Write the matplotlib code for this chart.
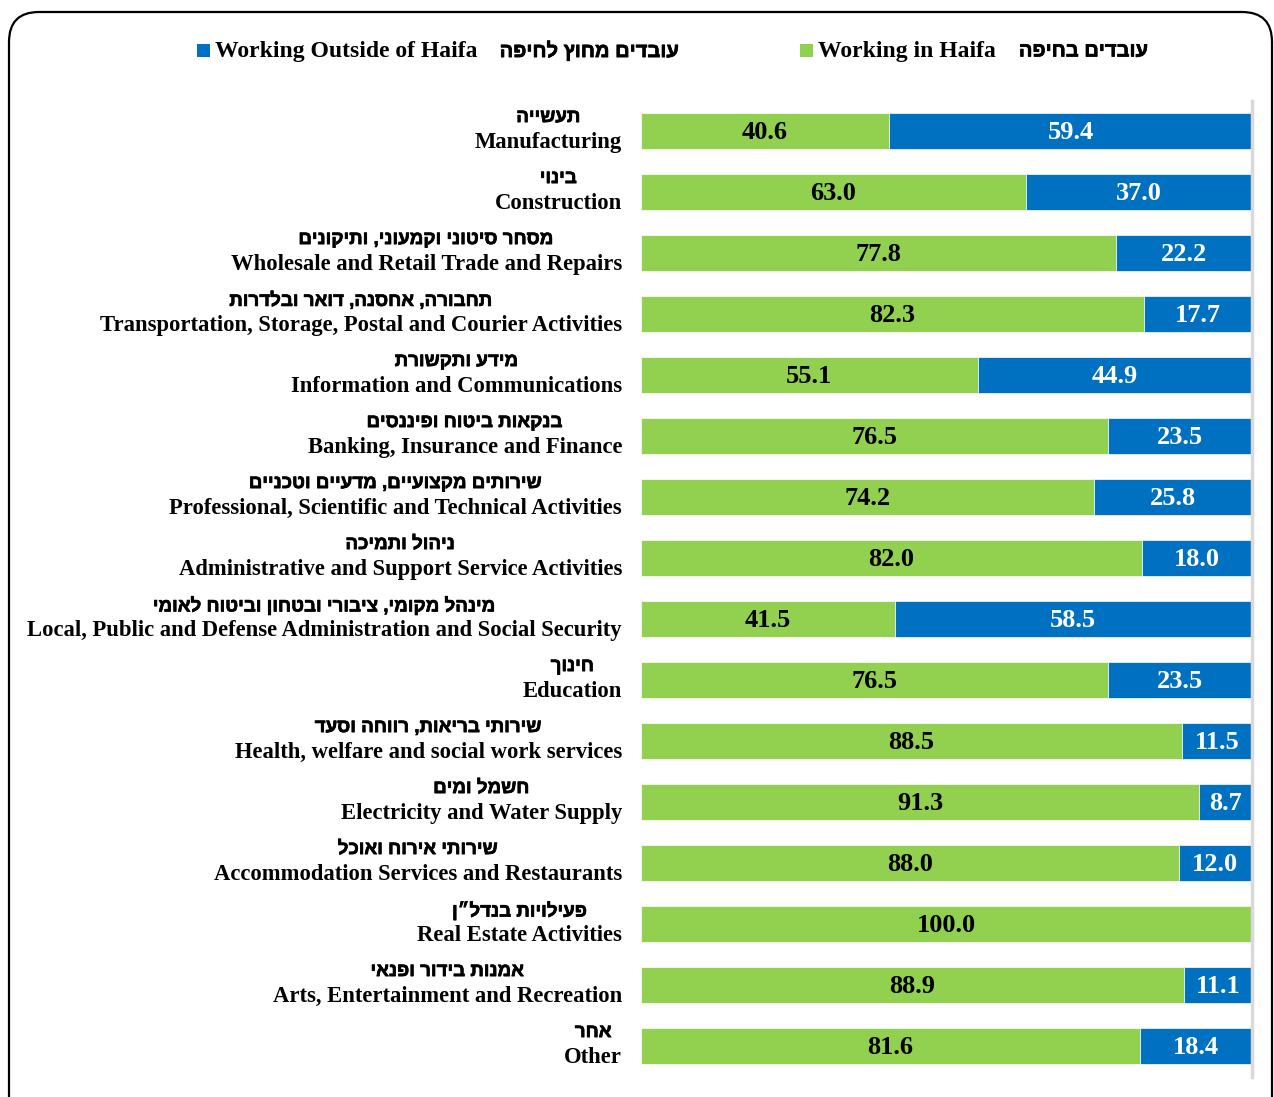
import matplotlib
matplotlib.use("Agg")
import matplotlib.pyplot as plt
import matplotlib.patheffects as pe
from matplotlib.patches import FancyBboxPatch, Rectangle

# data (top to bottom)
sectors_en = [
    "Manufacturing",
    "Construction",
    "Wholesale and Retail Trade and Repairs",
    "Transportation, Storage, Postal and Courier Activities",
    "Information and Communications",
    "Banking, Insurance and Finance",
    "Professional, Scientific and Technical Activities",
    "Administrative and Support Service Activities",
    "Local, Public and Defense Administration and Social Security",
    "Education",
    "Health, welfare and social work services",
    "Electricity and Water Supply",
    "Accommodation Services and Restaurants",
    "Real Estate Activities",
    "Arts, Entertainment and Recreation",
    "Other",
]
sectors_he = [
    "תעשייה",
    "בינוי",
    "מסחר סיטוני וקמעוני, ותיקונים",
    "תחבורה, אחסנה, דואר ובלדרות",
    "מידע ותקשורת",
    "בנקאות ביטוח ופיננסים",
    "שירותים מקצועיים, מדעיים וטכניים",
    "ניהול ותמיכה",
    "מינהל מקומי, ציבורי ובטחון וביטוח לאומי",
    "חינוך",
    "שירותי בריאות, רווחה וסעד",
    "חשמל ומים",
    "שירותי אירוח ואוכל",
    "פעילויות בנדל״ן",
    "אמנות בידור ופנאי",
    "אחר",
]
in_haifa = [40.6, 63.0, 77.8, 82.3, 55.1, 76.5, 74.2, 82.0, 41.5, 76.5, 88.5, 91.3, 88.0, 100.0, 88.9, 81.6]
outside_haifa = [59.4, 37.0, 22.2, 17.7, 44.9, 23.5, 25.8, 18.0, 58.5, 23.5, 11.5, 8.7, 12.0, 0.0, 11.1, 18.4]

legend_en = ["Working Outside of Haifa", "Working in Haifa"]
legend_he = ["עובדים מחוץ לחיפה", "עובדים בחיפה"]

GREEN = "#92D050"
BLUE = "#0070C0"
SERIF = ["Liberation Serif", "DejaVu Serif"]
SANS = ["Liberation Sans", "DejaVu Sans"]
# Hebrew glyphs come out light, thicken them a bit
HEB_BOLD = [pe.withStroke(linewidth=0.5, foreground="black")]


def rtl(s):
    # matplotlib lays glyphs out left to right, so flip Hebrew to visual order
    return s[::-1]


W, H = 1274, 1097
fig = plt.figure(figsize=(W / 100, H / 100), dpi=100)

# background layer in pixel coordinates: frame + legend
bg = fig.add_axes([0, 0, 1, 1])
bg.set_xlim(0, W)
bg.set_ylim(H, 0)
bg.axis("off")
bg.add_patch(FancyBboxPatch((9, 12), 1263, 1130, boxstyle="round,pad=0,rounding_size=30",
                            fc="white", ec="black", lw=1.6))

leg_y = 51
for (sq_x, txt_x, he_x), col, en, he in zip([(197, 215, 679), (800, 818, 1148)], [BLUE, GREEN],
                                          legend_en, legend_he):
    bg.add_patch(Rectangle((sq_x, leg_y - 7), 13, 13, fc=col, ec="none"))
    bg.text(txt_x, leg_y, en, ha="left", va="center", fontsize=17, fontweight="bold", family=SERIF)
    bg.text(he_x, leg_y, rtl(he), ha="right", va="center", fontsize=14.5, fontweight="bold",
            family=SANS, path_effects=HEB_BOLD)

# main chart
ax = fig.add_axes([641 / W, 1 - 1076.5 / H, 611 / W, 976 / H])
ax.patch.set_alpha(0)
y = list(range(len(in_haifa)))
ax.barh(y, in_haifa, height=0.58, color=GREEN, edgecolor="white", linewidth=0.5)
ax.barh(y, outside_haifa, left=in_haifa, height=0.58, color=BLUE, edgecolor="white", linewidth=0.5)
ax.set_xlim(0, 100)
ax.set_ylim(len(y) - 0.5, -0.5)
ax.set_xticks([])
ax.set_yticks([])
for side in ("left", "top", "bottom"):
    ax.spines[side].set_visible(False)
ax.spines["right"].set_color("#D9D9D9")
ax.spines["right"].set_linewidth(2.5)

for i, (g, b) in enumerate(zip(in_haifa, outside_haifa)):
    ax.text(g / 2, i + 0.03, f"{g:.1f}", ha="center", va="center", fontsize=19, fontweight="bold",
            family=SERIF, color="black")
    if b > 0:
        ax.text(g + b / 2, i + 0.03, f"{b:.1f}", ha="center", va="center", fontsize=19,
                fontweight="bold", family=SERIF, color="white")

# category labels: English right-aligned, Hebrew centred above it
renderer = fig.canvas.get_renderer()
tr = ax.get_yaxis_transform()
for i, (en, he) in enumerate(zip(sectors_en, sectors_he)):
    t = ax.text(-0.031, i + 0.19, en, transform=tr, ha="right", va="center", fontsize=16.3,
                fontweight="bold", family=SERIF)
    bb = t.get_window_extent(renderer)
    cx = ax.transAxes.inverted().transform(((bb.x0 + bb.x1) / 2, 0))[0]
    ax.text(cx, i - 0.22, rtl(he), transform=tr, ha="center", va="center", fontsize=13.5,
            fontweight="bold", family=SANS, path_effects=HEB_BOLD)

fig.savefig("out.png", dpi=100)
plt.close(fig)
